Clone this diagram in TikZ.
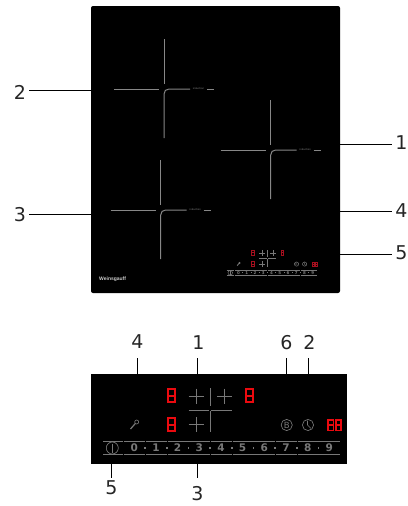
\documentclass[tikz,border=0pt]{standalone}
\usepackage{fontspec}
\setmainfont{DejaVu Sans}
\newfontfamily\brandfont{Liberation Sans}
\definecolor{segred}{RGB}{235,10,15}
\definecolor{minired}{RGB}{165,15,30}
\colorlet{segcol}{segred}
\definecolor{zone}{RGB}{135,135,135}
\definecolor{ctl}{RGB}{120,120,120}
\tikzset{
  callout/.style={font=\fontsize{19}{19}\selectfont,text=black!85,inner sep=3pt},
  leader/.style={draw=black,line width=1pt},
  zoneline/.style={draw=zone,line width=1pt},
  ctlline/.style={draw=ctl,line width=\pf*0.65pt},
  seg/.style={draw=segcol,line width=\segw},
  slidenum/.style={font=\fontsize{10.5}{10.5}\selectfont\bfseries,text=ctl,inner sep=0pt},
}
\def\pf{1}
\def\segw{1.8pt}
\newcommand{\burner}[2]{%
  \draw[zoneline] (#1,#2-50) -- (#1,#2-5.5);
  \draw[zoneline] (#1-50,#2) -- (#1-5,#2);
  \draw[zoneline] (#1,#2+49) -- (#1,#2+5) .. controls (#1,#2+2) and (#1+2,#2) .. (#1+5,#2) -- (#1+26,#2);
  \draw[zoneline] (#1+43,#2) -- (#1+50,#2);
  \node[inner sep=0pt,text=zone,font=\fontsize{2.4}{2.4}\selectfont] at (#1+34.5,#2) {induction};
}
\newcommand{\segeight}[4]{%
  \draw[seg] (#1,#2) rectangle (#1+#3,#2+#4);
  \draw[seg] (#1,#2+#4/2) -- (#1+#3,#2+#4/2);
}
\newcommand{\plus}[2]{%
  \draw[ctlline] (#1-7.5,#2) -- (#1+7.5,#2);
  \draw[ctlline] (#1,#2-7.5) -- (#1,#2+7.5);
}
\newcommand{\panelcontent}{%
  \segeight{168}{389}{6.8}{13.2}
  \segeight{246}{389}{6.8}{13.2}
  \segeight{168}{418}{6.8}{13.2}
  \segeight{328}{420}{5.4}{10.4}
  \segeight{335.8}{420}{5.4}{10.4}
  \plus{196}{396}
  \plus{224.7}{396}
  \plus{196}{424.7}
  \draw[ctlline] (210.3,388) -- (210.3,406);
  \draw[ctlline] (210.3,411) -- (210.3,432);
  \draw[ctlline] (188.7,410) -- (209.3,410);
  \draw[ctlline] (211.3,410) -- (232,410);
  % wrench
  \draw[ctlline] (136.7,422) circle (2);
  \draw[draw=ctl,line width=\pf*1.2pt] (135.3,423.5) -- (130.5,429);
  % B
  \draw[ctlline] (286.7,425) circle (5.6);
  \node[inner sep=0pt,text=ctl,font=\fontsize{8.5}{8.5}\selectfont] at (286.7,425) {B};
  % clock
  \draw[ctlline] (308,425) circle (5.6);
  \draw[ctlline] (307.5,420.5) -- (307.5,425) -- (311,428.5);
  % slider
  \draw[ctlline] (112.3,448) circle (6);
  \draw[ctlline] (112.3,443.5) -- (112.3,452.5);
  \foreach \a/\b in {103/123,124.3/145,146/167,167.7/188.7,189.3/210.3,211/232,232.7/253.7,254.4/275.4,276/297,297.7/318.7,319.4/340}{
    \draw[ctlline] (\a,441.3) -- (\b,441.3);
    \draw[ctlline] (\a,454.3) -- (\b,454.3);
  }
  \foreach \n in {0,...,9}{
    \node[slidenum] at ({134.3+21.67*\n},447.7) {\n};
  }
  \foreach \n in {0,...,8}{
    \fill[ctl] ({145.1+21.67*\n-0.8},447) rectangle ++(1.6,1.6);
  }
}
\begin{document}
\begin{tikzpicture}[x=1pt,y=-1pt]
\useasboundingbox (0,0) rectangle (407,506);
\fill[white] (0,0) rectangle (407,506);
% hob
\fill[black,rounded corners=2pt] (91,6) rectangle (340,293);
\burner{164}{89}
\burner{160.7}{210}
\burner{270.7}{150}
\node[inner sep=0pt,anchor=west,text=white!80!black,font=\fontsize{5}{5}\selectfont\brandfont\bfseries] (brand) at (99,279) {Weinsgauff};
\begin{scope}[shift={(187.56,102.56)},scale=.38,transform shape]
  \def\pf{0.75}
  \def\segw{0.8pt}
  \colorlet{segcol}{minired}
  \panelcontent
\end{scope}
% control panel
\fill[black] (91,374) rectangle (347,464);
\panelcontent
% callouts on hob
\node[callout] (a2) at (20,92) {2};
\node[callout] (a3) at (20,215) {3};
\node[callout] (a1) at (401.5,143) {1};
\node[callout] (a4) at (401.5,211) {4};
\node[callout] (a5) at (401.5,253) {5};
\coordinate (p2) at (91,90);
\coordinate (p3) at (91,214);
\coordinate (p1) at (338,144);
\coordinate (p4) at (340,211);
\coordinate (p5) at (340,254);
\draw[leader] (p2) -- (p2 -| a2.east);
\draw[leader] (p3) -- (p3 -| a3.east);
\draw[leader] (p1) -- (p1 -| a1.west);
\draw[leader] (p4) -- (p4 -| a4.west);
\draw[leader] (p5) -- (p5 -| a5.west);
% callouts on panel
\node[callout] (b4) at (137.5,342) {4};
\node[callout] (b1) at (198.5,343) {1};
\node[callout] (b6) at (286.5,343) {6};
\node[callout] (b2) at (309.5,342) {2};
\node[callout] (b5) at (111.5,488) {5};
\node[callout] (b3) at (197.5,494) {3};
\coordinate (q4) at (137,374);
\coordinate (q1) at (197.5,374);
\coordinate (q6) at (286,374);
\coordinate (q2) at (308,374);
\coordinate (q5) at (111,464);
\coordinate (q3) at (197,464);
\draw[leader] (q4) -- (137,358);
\draw[leader] (q1) -- (197.5,358);
\draw[leader] (q6) -- (286,358);
\draw[leader] (q2) -- (308,358);
\draw[leader] (q5) -- (111,478);
\draw[leader] (q3) -- (197,478);
\end{tikzpicture}
\end{document}
